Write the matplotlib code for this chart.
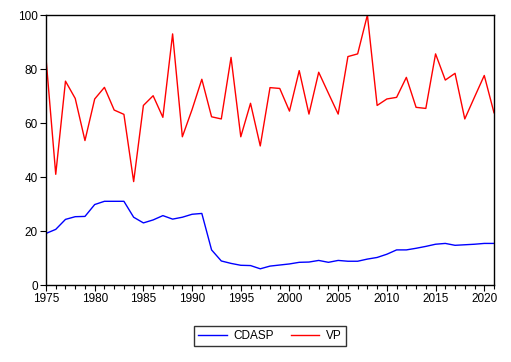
import matplotlib.pyplot as plt
from matplotlib.ticker import MultipleLocator

plt.rcParams['font.family'] = ['Liberation Sans', 'DejaVu Sans']

years = list(range(1975, 2022))

cdasp = [19.1, 20.6, 24.3, 25.3, 25.4, 29.8, 31.0, 31.0, 31.0, 25.1,
         23.0, 24.1, 25.7, 24.4, 25.1, 26.2, 26.5, 13.0, 8.9, 8.0,
         7.3, 7.2, 6.0, 7.0, 7.4, 7.8, 8.4, 8.5, 9.1, 8.4,
         9.1, 8.8, 8.8, 9.6, 10.2, 11.4, 13.0, 13.0, 13.6, 14.3,
         15.1, 15.4, 14.7, 14.9, 15.1, 15.4, 15.4]

vp = [84.0, 41.0, 75.5, 69.1, 53.5, 68.9, 73.2, 64.8, 63.2, 38.3,
      66.5, 70.1, 62.1, 93.0, 54.9, 65.0, 76.2, 62.3, 61.5, 84.3,
      54.9, 67.3, 51.5, 73.1, 72.8, 64.4, 79.4, 63.3, 78.8, 71.0,
      63.3, 84.6, 85.6, 100.0, 66.5, 68.9, 69.5, 76.9, 65.8, 65.4,
      85.6, 75.9, 78.4, 61.5, 69.6, 77.6, 63.8]

fig = plt.figure(figsize=(5.11, 3.62), dpi=100)
ax = fig.add_axes([46 / 511, 1 - 285 / 362, 448 / 511, 270 / 362])

ax.plot(years, cdasp, color='#0000ff', lw=1, label='CDASP')
ax.plot(years, vp, color='#ff0000', lw=1, label='VP')

ax.set_xlim(1975, 2021)
ax.set_ylim(0, 100)
ax.xaxis.set_major_locator(MultipleLocator(5))
ax.xaxis.set_minor_locator(MultipleLocator(1))
ax.yaxis.set_major_locator(MultipleLocator(20))
ax.tick_params(axis='both', which='major', labelsize=8.5, length=4, width=0.8, pad=2)
ax.tick_params(axis='x', which='minor', length=3, width=0.8)
for s in ax.spines.values():
    s.set_linewidth(1)

leg = ax.legend(loc='upper center', bbox_to_anchor=(0.5, -0.13), ncol=2,
                fontsize=8.5, frameon=True, fancybox=False, handlelength=2.4,
                handletextpad=0.6, columnspacing=1.4, borderpad=0.35)
leg.get_frame().set_edgecolor('black')
leg.get_frame().set_linewidth(1)

fig.savefig('out.png', dpi=100)
